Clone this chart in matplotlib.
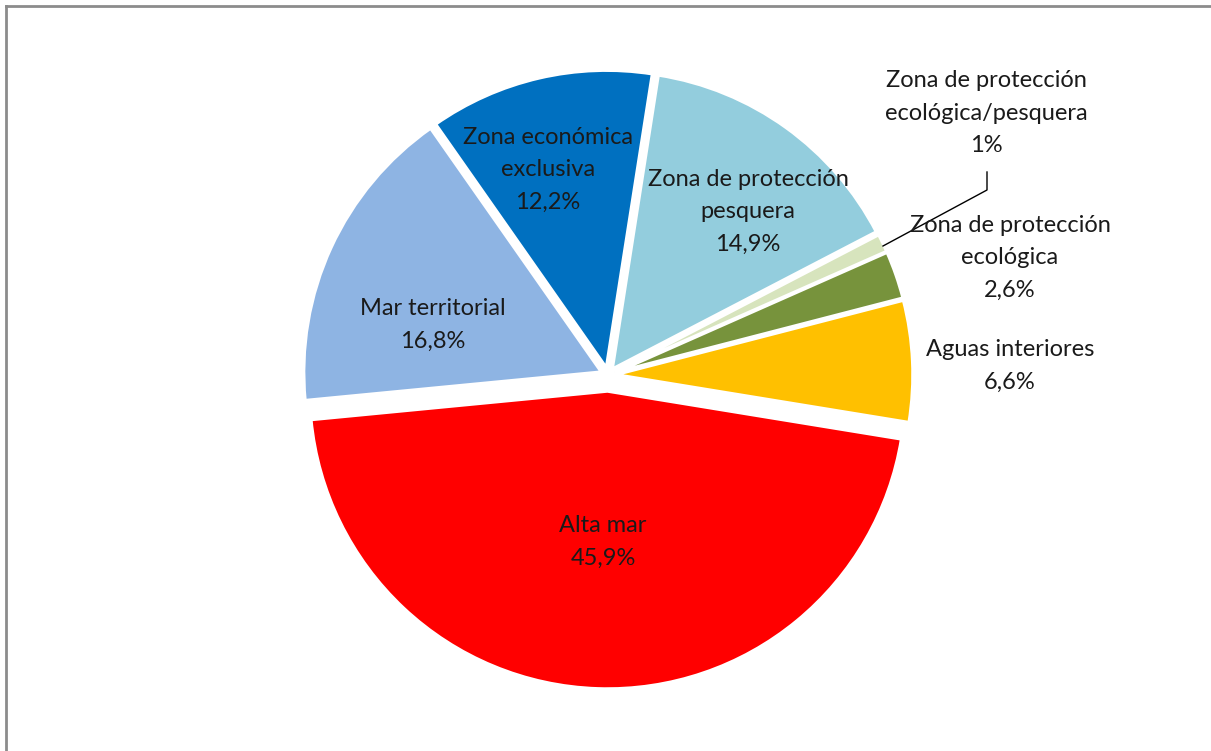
"""
Distribución por zonas marítimas - gráfico de tarta
"""

import matplotlib
matplotlib.use('Agg')
import matplotlib.pyplot as plt

labels = ['Alta mar', 'Aguas interiores', 'Zona de protección\necológica',
          'Zona de protección\necológica/pesquera', 'Zona de protección\npesquera',
          'Zona económica\nexclusiva', 'Mar territorial']
values = [45.9, 6.6, 2.6, 1.0, 14.9, 12.2, 16.8]
pct_text = ['45,9%', '6,6%', '2,6%', '1%', '14,9%', '12,2%', '16,8%']
colors = ['#FF0000', '#FFC000', '#77933C', '#D7E4BD', '#93CDDD', '#0070C0', '#8EB4E3']
# offsets in pixels (pie places exploded wedges in data units)
explode = [16, 7, 7, 7, 7, 7, 7]

W, H = 1211, 751
plt.rcParams['font.family'] = ['Lato', 'DejaVu Sans']

fig = plt.figure(figsize=(W / 100, H / 100), dpi=100)
ax = fig.add_axes([0, 0, 1, 1])


def py(y_top):
    # pixel row from the top -> data y
    return H - y_top


ax.pie(values, colors=colors, explode=explode, startangle=185.5,
       counterclock=True, radius=298, center=(608, py(375)),
       wedgeprops=dict(edgecolor='white', linewidth=2.5))
ax.set_xlim(0, W)
ax.set_ylim(0, H)
ax.set_aspect('equal')
ax.axis('off')

# label positions (pixel coords from the top of the image)
label_pos = [(603, 542), (1010, 366), (1010, 258), (986, 113),
             (748, 212), (548, 170), (433, 325)]
for lab, pct, (x, y) in zip(labels, pct_text, label_pos):
    ax.text(x, py(y), lab + '\n' + pct, ha='center', va='center',
            fontsize=17, color='#1a1a1a', linespacing=1.66)

# leader line for the 1% slice
ax.plot([987, 987, 883], [py(172), py(190), py(246)], color='black', lw=1)

# border (only top and left edges visible)
fig.add_artist(plt.Line2D([6 / W, 6 / W], [0, 1 - 6 / H], color='#8c8c8c', lw=2))
fig.add_artist(plt.Line2D([6 / W, 1], [1 - 6 / H, 1 - 6 / H], color='#8c8c8c', lw=2))

fig.savefig('out.png', dpi=100)
